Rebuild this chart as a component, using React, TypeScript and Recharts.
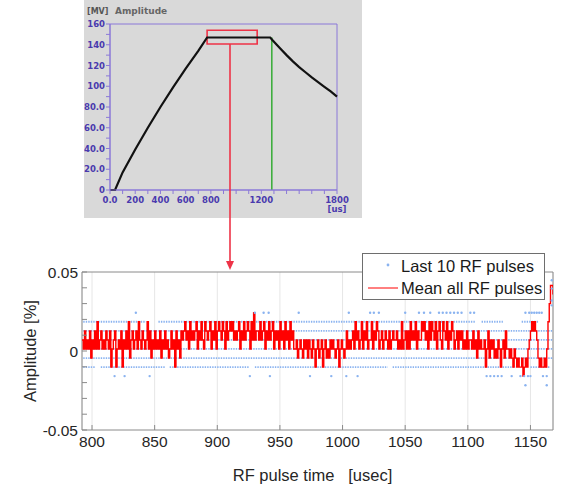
import React from 'react';
import {
  ComposedChart,
  Line,
  Scatter,
  XAxis,
  YAxis,
  CartesianGrid,
  ReferenceArea,
  Legend,
  Label,
} from 'recharts';

// ---------- inset: cavity amplitude over the RF pulse ----------
const pulseTime = [0, 40, 100, 200, 300, 400, 500, 600, 700, 770, 1000, 1270, 1300, 1350, 1400, 1450, 1500, 1550, 1600, 1650, 1700, 1750, 1800];
const pulseAmp = [0, 0, 17, 39, 60, 80, 99, 117, 134, 147, 147, 147, 143, 136.5, 130, 124, 118.5, 113.5, 108.5, 104, 99.5, 95, 90];
const triggerTime = 1283;
const triggerAmp = [147, 0];
const zoomTime = [770, 1167];
const zoomAmp = [140.7, 154];
const insetXTicks = [0, 100, 200, 300, 400, 500, 600, 700, 800, 900, 1000, 1100, 1200, 1300, 1400, 1500, 1600, 1700, 1800];
const insetXLabels: Record<number, string> = { 0: '0.0', 200: '200', 400: '400', 600: '600', 800: '800', 1200: '1200', 1800: '1800' };
const insetYTicks = [0, 10, 20, 30, 40, 50, 60, 70, 80, 90, 100, 110, 120, 130, 140, 150, 160];
const insetYLabels: Record<number, string> = { 0: '0', 20: '20.0', 40: '40.0', 60: '60.0', 80: '80.0', 100: '100', 120: '120', 140: '140', 160: '160' };

// ---------- main: flat top deviation ----------
// quantised amplitude levels seen in the plot [%]
const levels = [-0.0217, -0.0159, -0.0102, -0.0045, 0.0013, 0.007, 0.0127, 0.0185, 0.0242, 0.03, 0.0357, 0.0415];
// mean of all pulses, one level index (hex) per usec starting at meanStart
const meanStart = 792;
const meanLevels =
  '5464546354' + '6474564546' + '5462456245' + '4625464735' + '6456475465' +
  '4574635464' + '5463546453' + '4645264536' + '5675647565' + '6746575476' +
  '5674657467' + '6576475676' + '7565674657' + '5676475856' + '6575674657' +
  '5674656475' + '6475647564' + '4534543545' + '3543542453' + '4524534354' +
  '5434524543' + '4645456475' + '6457465745' + '5746576456' + '4565464565' +
  '5645474564' + '6475657465' + '5767564757' + '6574675476' + '5746576456' +
  '4656454645' + '5464536454' + '4524635453' + '4354245364' + '4343243232' +
  '2312324567' + '6765323223' + '2479BBA';
// last 10 pulses: dense rows [level, from usec, to usec]
const lastRuns: Array<[number, number, number]> = [
  [7, 793, 843], [7, 853, 1106], [7, 1111, 1128], [7, 1143, 1157],
  [6, 793, 1168],
  [5, 793, 1168],
  [4, 793, 1168],
  [3, 793, 1168],
  [2, 793, 803], [2, 807, 858], [2, 862, 925], [2, 930, 1036], [2, 1040, 1138], [2, 1150, 1166],
];
// last 10 pulses: isolated samples [usec, level]
const lastSparse: Array<[number, number]> = [
  [835, 8], [930, 8], [937, 8], [941, 8], [965, 8], [1005, 8], [1022, 8], [1025, 8], [1029, 8],
  [1050, 8], [1061, 8], [1065, 8], [1070, 8], [1077, 8], [1080, 8], [1083, 8], [1086, 8],
  [1089, 8], [1092, 8], [1095, 8], [1102, 8], [1105, 8], [1146, 8], [1149, 8], [1151, 8],
  [1153, 8], [1155, 8], [1157, 8], [1159, 8],
  [818, 1], [826, 1], [846, 1], [926, 1], [942, 1], [974, 1], [991, 1], [1003, 1], [1012, 1],
  [1115, 1], [1118, 1], [1121, 1], [1124, 1], [1127, 1], [1135, 1], [1142, 1], [1145, 1],
  [1148, 1], [1150, 1], [1160, 1], [1163, 1],
  [1146, 0], [1163, 0],
];
const lastEdge: Array<[number, number]> = [[1167, 0.0448], [1167, 0.0395], [1167, 0.032], [1167, 0.0289]];
const xTicks = [800, 850, 900, 950, 1000, 1050, 1100, 1150];
const yTicks = [-0.05, -0.04, -0.03, -0.02, -0.01, 0, 0.01, 0.02, 0.03, 0.04, 0.05];
const yLabels: Record<string, string> = { '-0.05': '-0.05', '0': '0', '0.05': '0.05' };

const FONT = '"Liberation Sans", Arial, sans-serif';
const INSET_FONT = '"DejaVu Sans", Verdana, sans-serif';
const PURPLE = '#8b79d8';
const INK = '#4a3aae';
const RED = '#ff0000';
const BLUE = '#8ab3f0';
const FRAME = '#8a8a8a';

const insetData = pulseTime.map((t, i) => ({ t, a: pulseAmp[i] }));
const triggerData = triggerAmp.map((a) => ({ t: triggerTime, a }));

const meanData = meanLevels.split('').map((c, i) => ({ t: meanStart + i, v: levels[parseInt(c, 16)] }));

const runsByLevel: Record<number, Array<{ t: number; v: number | null }>> = {};
lastRuns.forEach(([lv, s, e]) => {
  const rows = runsByLevel[lv] || (runsByLevel[lv] = []);
  rows.push({ t: s, v: levels[lv] }, { t: e, v: levels[lv] }, { t: e + 0.5, v: null });
});
const sparseData = [
  ...lastSparse.map(([t, lv]) => ({ t, v: levels[lv] })),
  ...lastEdge.map(([t, v]) => ({ t, v })),
];

const InsetXTick = (p: any) => {
  const v = p.payload.value;
  const s = insetXLabels[v];
  if (!s) return <g />;
  return (
    <g fontFamily={INSET_FONT} fontWeight="bold" fontSize={8.5} fill={INK}>
      <text x={p.x} y={p.y} dy="0.71em" textAnchor="middle">{s}</text>
      {v === 1800 && <text x={p.x} y={p.y + 9} dy="0.71em" textAnchor="middle">[us]</text>}
    </g>
  );
};

const InsetYTick = (p: any) => {
  const s = insetYLabels[p.payload.value];
  if (!s) return <g />;
  return (
    <text x={p.x} y={p.y} textAnchor="end" dominantBaseline="central"
      fontFamily={INSET_FONT} fontWeight="bold" fontSize={8.5} fill={INK}>{s}</text>
  );
};

const MainXTick = (p: any) => (
  <text x={p.x} y={p.y} dy="0.71em" textAnchor="middle" fontFamily={FONT} fontSize={15.5} fill="#262626">
    {p.payload.value}
  </text>
);

const MainYTick = (p: any) => {
  const s = yLabels[String(Math.round(p.payload.value * 100) / 100)];
  if (!s) return <g />;
  return (
    <text x={p.x} y={p.y} textAnchor="end" dominantBaseline="central" fontFamily={FONT} fontSize={15.5} fill="#262626">
      {s}
    </text>
  );
};

const Blank = () => <g />;

const LegendBox = () => (
  <svg width={183} height={47} style={{ display: 'block' }}>
    <rect x={0.5} y={0.5} width={182} height={46} fill="#fff" stroke="#6e6e6e" />
    <circle cx={26} cy={12} r={1.4} fill={BLUE} />
    <line x1={6} x2={36} y1={35} y2={35} stroke={RED} strokeWidth={1} />
    <g fontFamily={FONT} fontSize={16.5} fill="#1a1a1a">
      <text x={39} y={13} dominantBaseline="central">Last 10 RF pulses</text>
      <text x={39} y={35} dominantBaseline="central">Mean all RF pulses</text>
    </g>
  </svg>
);

export default function App() {
  return (
    <div style={{ position: 'absolute', left: 0, top: 0, width: 561, height: 486, background: '#fff', overflow: 'hidden' }}>
      {/* inset panel */}
      <div style={{ position: 'absolute', left: 84, top: 0, width: 278, height: 218, background: '#d9d9d9' }}>
        <span style={{ position: 'absolute', left: 3, top: 7, fontFamily: INSET_FONT, fontWeight: 'bold', fontSize: 8, color: '#555' }}>[MV]</span>
        <span style={{ position: 'absolute', left: 31, top: 6, fontFamily: INSET_FONT, fontWeight: 'bold', fontSize: 9, color: '#666' }}>Amplitude</span>
        <ComposedChart width={278} height={218} margin={{ top: 24, right: 25, bottom: 0, left: 0 }}>
          <XAxis dataKey="t" type="number" domain={[0, 1800]} ticks={insetXTicks} interval={0} height={28}
            tickSize={4} tickMargin={3} tick={<InsetXTick />} tickLine={{ stroke: PURPLE }} axisLine={{ stroke: PURPLE }} />
          <YAxis dataKey="a" type="number" domain={[0, 160]} ticks={insetYTicks} interval={0} width={26}
            tickSize={4} tickMargin={1} tick={<InsetYTick />} tickLine={{ stroke: PURPLE }} axisLine={{ stroke: PURPLE }} />
          <ReferenceArea x1={0} x2={1800} y1={0} y2={160} fill="none" stroke={PURPLE} strokeWidth={1} />
          <Line data={triggerData} dataKey="a" stroke="#3fae3f" strokeWidth={1.6} dot={false} isAnimationActive={false} />
          <Line data={insetData} dataKey="a" stroke="#111" strokeWidth={2.2} dot={false} isAnimationActive={false} />
          <ReferenceArea x1={zoomTime[0]} x2={zoomTime[1]} y1={zoomAmp[0]} y2={zoomAmp[1]} fill="none" stroke="#ee3347" strokeWidth={1.6} />
        </ComposedChart>
      </div>

      {/* main chart */}
      <div style={{ position: 'absolute', left: 0, top: 240, width: 561, height: 246 }}>
        <ComposedChart width={561} height={246} margin={{ top: 32, right: 8, bottom: 0, left: 0 }}>
          <CartesianGrid horizontal={false} stroke="#e6e6e6" />
          <XAxis dataKey="t" type="number" domain={[792, 1168]} allowDataOverflow ticks={xTicks} interval={0} height={56}
            tickSize={-5} tickMargin={11} tick={<MainXTick />} tickLine={{ stroke: FRAME }} axisLine={false}>
            <Label content={(props: any) => {
              const vb = props.viewBox;
              return (
                <text x={vb.x + vb.width / 2 - 5} y={vb.y + 45} textAnchor="middle" dominantBaseline="central"
                  fontFamily={FONT} fontSize={16.5} fill="#262626" style={{ whiteSpace: 'pre' }}>
                  {'RF pulse time   [usec]'}
                </text>
              );
            }} />
          </XAxis>
          <XAxis xAxisId="top" orientation="top" dataKey="t" type="number" domain={[792, 1168]} allowDataOverflow ticks={xTicks}
            interval={0} height={0} tickSize={-5} tick={<Blank />} tickLine={{ stroke: FRAME }} axisLine={false} />
          <YAxis dataKey="v" type="number" domain={[-0.05, 0.05]} allowDataOverflow ticks={yTicks} interval={0} width={82}
            tickSize={-5} tickMargin={9} tick={<MainYTick />} tickLine={{ stroke: FRAME }} axisLine={false}>
            <Label content={(props: any) => {
              const vb = props.viewBox;
              const cx = vb.x + 30;
              const cy = vb.y + vb.height / 2;
              return (
                <text x={cx} y={cy} transform={`rotate(-90 ${cx} ${cy})`} textAnchor="middle" dominantBaseline="central"
                  fontFamily={FONT} fontSize={16.5} fill="#262626">Amplitude [%]</text>
              );
            }} />
          </YAxis>
          <YAxis yAxisId="right" orientation="right" dataKey="v" type="number" domain={[-0.05, 0.05]} allowDataOverflow
            ticks={yTicks} interval={0} width={0} tickSize={-5} tick={<Blank />} tickLine={{ stroke: FRAME }} axisLine={false} />
          {Object.keys(runsByLevel).map((lv) => (
            <Line key={lv} data={runsByLevel[Number(lv)]} dataKey="v" stroke={BLUE} strokeWidth={1.8}
              strokeDasharray="1.4 1.1" dot={false} connectNulls={false} isAnimationActive={false} />
          ))}
          <Scatter data={sparseData} fill={BLUE} isAnimationActive={false}
            shape={(p: any) => <circle cx={p.cx} cy={p.cy} r={1.2} fill={BLUE} />} />
          <Line data={meanData} dataKey="v" type="stepAfter" stroke={RED} strokeWidth={1.4} dot={false} isAnimationActive={false} />
          <ReferenceArea x1={792} x2={1168} y1={-0.05} y2={0.05} fill="none" stroke={FRAME} strokeWidth={1} />
          <Legend layout="vertical" align="center" verticalAlign="middle" width={183} height={47}
            wrapperStyle={{ left: 362, top: 13, width: 183, height: 47 }} content={() => <LegendBox />} />
        </ComposedChart>
      </div>

      {/* zoom connector from the inset window down to the main plot */}
      <svg width={561} height={486} style={{ position: 'absolute', left: 0, top: 0, pointerEvents: 'none' }}>
        <line x1={230} x2={230} y1={44} y2={262} stroke="#ee3347" strokeWidth={1.6} />
        <polygon points="226,261 234,261 230,270" fill="#ee3347" />
      </svg>
    </div>
  );
}
